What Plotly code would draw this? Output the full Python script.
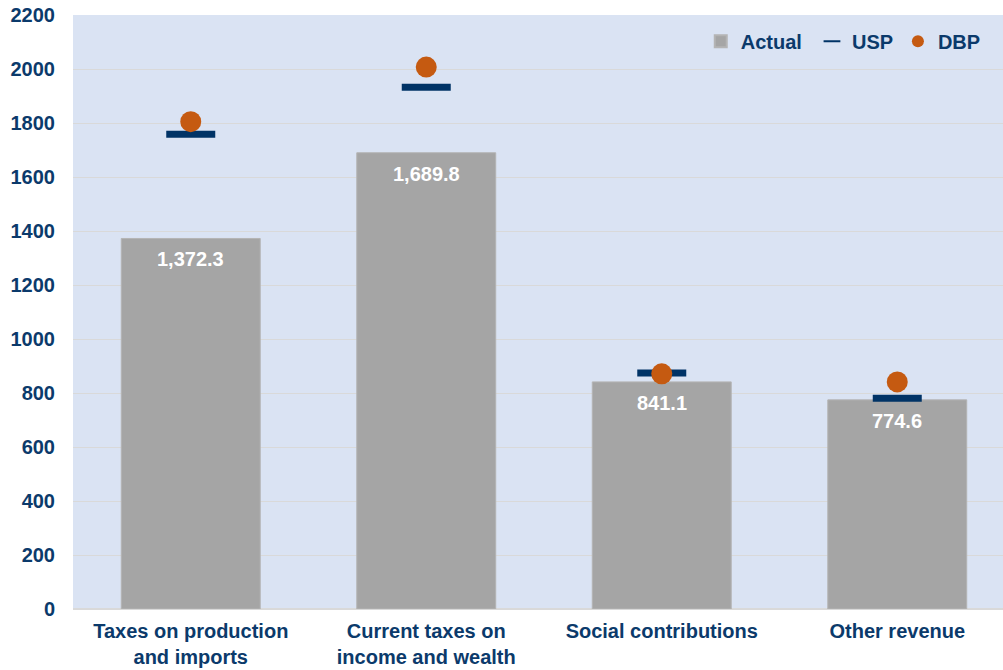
import plotly.graph_objects as go

# Revenue components: actual outturn vs. USP and DBP projections
categories = ["Taxes on production<br>and imports", "Current taxes on<br>income and wealth",
              "Social contributions", "Other revenue"]
actual = [1372.3, 1689.8, 841.1, 774.6]
usp = [1758, 1932, 874, 781]
dbp = [1805, 2007, 871, 841]
y_ticks = list(range(0, 2201, 200))

NAVY = "#0b3a6b"
FONT = "Liberation Sans, Arial, sans-serif"
FS = 20


def bold(size, color=NAVY):
    return dict(family=FONT, size=size, color=color, weight="bold")


fig = go.Figure()
fig.add_trace(go.Bar(
    x=categories, y=actual, name="Actual",
    marker=dict(color="#a5a5a5", line=dict(color="#b4b4b4", width=1)),
    width=0.59, hoverinfo="skip", legend="legend",
))
fig.add_trace(go.Scatter(
    x=categories, y=usp, name="USP", mode="markers", legend="legend2",
    marker=dict(symbol="line-ew", size=35, color=NAVY,
                line=dict(color="#003366", width=7)),
))
fig.add_trace(go.Scatter(
    x=categories, y=dbp, name="DBP", mode="markers", legend="legend3",
    marker=dict(symbol="circle", size=21, color="#c55a11"),
))

# value labels just inside the top of each bar
for c, v in zip(categories, actual):
    fig.add_annotation(x=c, y=v, text=f"{v:,.1f}", showarrow=False,
                       yanchor="top", yshift=-8, font=bold(FS, "white"))

leg_common = dict(orientation="h", yanchor="middle", y=0.956, xanchor="left",
                  bgcolor="rgba(0,0,0,0)", font=bold(FS), itemsizing="constant")
fig.update_layout(
    width=1003, height=670,
    margin=dict(l=73, r=0, t=15, b=61),
    paper_bgcolor="white", plot_bgcolor="#dae3f3",
    font=dict(family=FONT, color=NAVY, size=FS),
    showlegend=True,
    legend=dict(x=0.675, **leg_common),
    legend2=dict(x=0.7946, **leg_common),
    legend3=dict(x=0.887, **leg_common),
)
fig.update_xaxes(
    range=[-0.5, 3.449], showgrid=False, showline=False, ticks="",
    tickfont=bold(FS), ticklabelstandoff=8,
)
fig.update_yaxes(
    range=[0, 2200], tickvals=y_ticks, showgrid=True, gridcolor="#d9d9d9",
    gridwidth=1, zeroline=True, zerolinecolor="#d9d9d9", ticks="",
    tickfont=bold(FS), ticklabelstandoff=17,
)

fig.write_html("out.html")
